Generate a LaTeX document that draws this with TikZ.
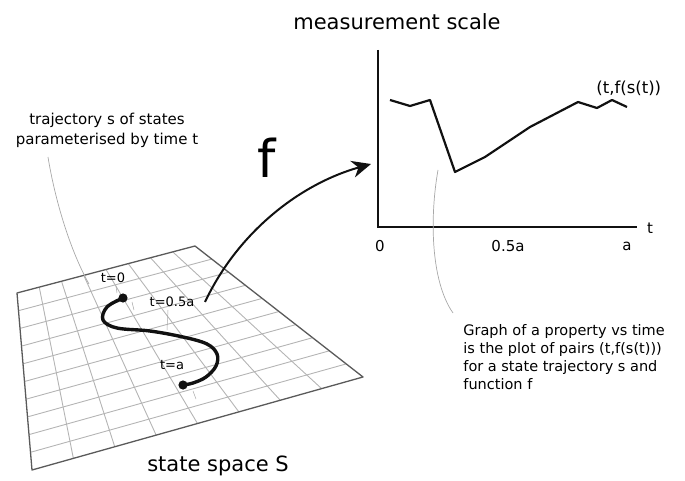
\documentclass[tikz,border=0pt]{standalone}
\usepackage{fontspec}
\setmainfont{DejaVu Sans}
\usepackage{tikz}
\usepackage{xcolor}
\usetikzlibrary{calc,arrows.meta}
\definecolor{gridgrey}{HTML}{B4B4B4}
\definecolor{edgegrey}{HTML}{5A5A5A}
\definecolor{leadgrey}{HTML}{A8A8A8}
\definecolor{inkblack}{HTML}{111111}

\begin{document}
\begin{tikzpicture}[x=1pt,y=-1pt,line width=0.8pt,
  gridline/.style={gridgrey,line width=0.9pt},
  planeedge/.style={edgegrey,line width=1.3pt,line join=round},
  leader/.style={leadgrey,line width=0.7pt},
  axisline/.style={inkblack,line width=2.4pt},
  lbl/.style={inner sep=0pt,font=\fontsize{13}{15}\selectfont}]
\useasboundingbox (0,0) rectangle (685,481);
% the plane of states
\coordinate (TL) at (17,293);
\coordinate (TR) at (195,246);
\coordinate (BR) at (363,377);
\coordinate (BL) at (32,470);
\foreach \i in {1,...,7}
  \draw[gridline] ($(TL)!\i/8!(TR)$) -- ($(BL)!\i/8!(BR)$);
\foreach \j in {1,...,9}
  \draw[gridline] ($(TL)!\j/10!(BL)$) -- ($(TR)!\j/10!(BR)$);
\draw[planeedge] (TL) -- (TR) -- (BR) -- (BL) -- cycle;
% trajectory
\draw[inkblack,line width=3.4pt,line cap=round] plot[smooth,tension=0.6] coordinates
  {(123,298) (107,307) (103,320) (117,328) (150,331) (183,337) (207,344) (217,354) (216,366) (206,377) (193,383) (183,385)};
\fill[inkblack] (123,298) circle (4.6);
\fill[inkblack] (183,385) circle (4.6);
\node[lbl] (tzero) at (113,278) {t=0};
\node[lbl] (thalf) at (172,302) {t=0.5a};
\node[lbl] (tend) at (172,365) {t=a};
\draw[leader,line width=0.5pt] (116,286) -- (117,293);
\draw[leader,line width=0.5pt] (132,302) -- (134,310);
\draw[leader,line width=0.5pt] (168,310) -- (167,330);
\draw[leader,line width=0.5pt] (193,391) -- (196,399);
\node[font=\fontsize{21}{25}\selectfont] (statespace) at (218,466) {state space S};
% note on trajectory
\node[align=center,inner sep=0pt,font=\fontsize{15}{20}\selectfont] (trajnote) at (107,130)
  {trajectory s of states\\parameterised by time t};
\coordinate (trajfoot) at (89,284);
\draw[leader] (48,157) .. controls (55,200) and (70,250) .. (trajfoot);
% the map f
\coordinate (fstart) at (205,302);
\coordinate (fend) at (371,164);
\draw[inkblack,line width=2pt,-{Stealth[length=19pt,width=17pt,inset=6pt]}]
  (fstart) .. controls (238,232) and (300,184) .. (fend);
\node[font=\fontsize{52}{60}\selectfont,inner sep=0pt] (fmap) at (267,158) {f};
% measurement scale
\node[font=\fontsize{21}{25}\selectfont] (scale) at (397,22) {measurement scale};
\coordinate (origin) at (378,227);
\draw[axisline] (378,50) -- (origin) -- (637,227);
\node[lbl,font=\fontsize{15}{18}\selectfont] (tzerox) at (380,246) {0};
\node[lbl,font=\fontsize{15}{18}\selectfont] (thalfx) at (508,246) {0.5a};
\node[lbl,font=\fontsize{15}{18}\selectfont] (tendx) at (627,246) {a};
\node[lbl,font=\fontsize{15}{18}\selectfont] (taxis) at (650,228) {t};
\draw[inkblack,line width=2.2pt,line join=round] (390,100) -- (410,106) -- (430,100) -- (455,172)
  -- (485,157) -- (530,127) -- (578,102) -- (597,108) -- (612,100) -- (627,107);
\node[lbl,font=\fontsize{16.5}{18}\selectfont,anchor=west] (pairs) at (596,88) {(t,f(s(t))};
% note on the graph
\node[align=left,anchor=north west,inner sep=0pt,font=\fontsize{14.5}{18}\selectfont] (graphnote) at (463,324)
  {Graph of a property vs time\\is the plot of pairs (t,f(s(t)))\\for a state trajectory s and\\function f};
\draw[leader] (438,170) .. controls (430,215) and (430,280) .. (453,313);
\end{tikzpicture}
\end{document}
